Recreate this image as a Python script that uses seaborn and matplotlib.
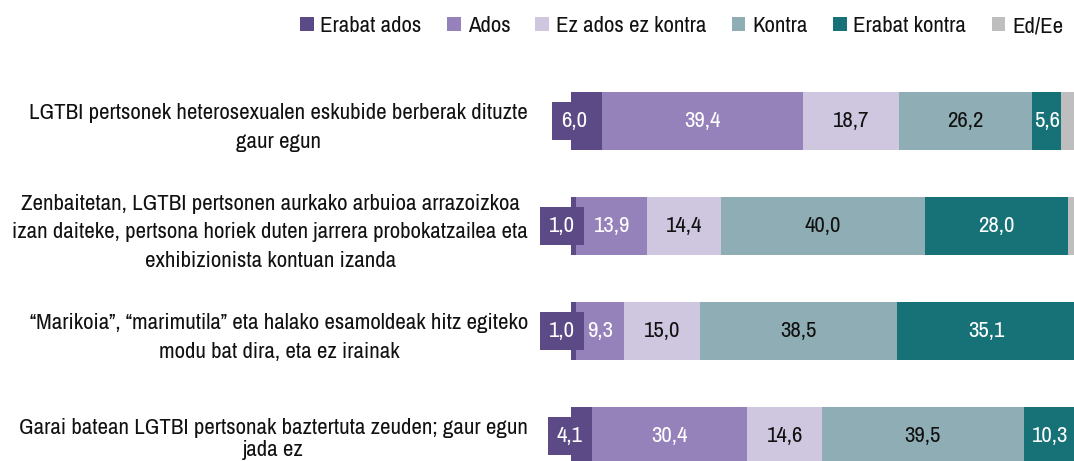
import matplotlib
matplotlib.use("Agg")
import matplotlib.pyplot as plt
from matplotlib.patches import Patch
import pandas as pd
import seaborn as sns

# survey statements (y axis), already wrapped like the original
statements = [
    "LGTBI pertsonek heterosexualen eskubide berberak dituzte\ngaur egun",
    "Zenbaitetan, LGTBI pertsonen aurkako arbuioa arrazoizkoa\nizan daiteke, pertsona horiek duten jarrera probokatzailea eta\nexhibizionista kontuan izanda",
    "\u201cMarikoia\u201d, \u201cmarimutila\u201d eta halako esamoldeak hitz egiteko\nmodu bat dira, eta ez irainak",
    "Garai batean LGTBI pertsonak baztertuta zeuden; gaur egun\njada ez",
]

answers = ["Erabat ados", "Ados", "Ez ados ez kontra", "Kontra", "Erabat kontra", "Ed/Ee"]

erabat_ados = [6.0, 1.0, 1.0, 4.1]
ados = [39.4, 13.9, 9.3, 30.4]
ez_ados_ez_kontra = [18.7, 14.4, 15.0, 14.6]
kontra = [26.2, 40.0, 38.5, 39.5]
erabat_kontra = [5.6, 28.0, 35.1, 10.3]
ed_ee = [4.1, 2.7, 1.1, 1.1]

colors = ["#5c4a87", "#9682ba", "#cfc7e0", "#8fadb4", "#167276", "#bebebe"]
text_colors = ["white", "white", "#111111", "#111111", "white", None]

df = pd.DataFrame({"statement": statements})
series = [erabat_ados, ados, ez_ados_ez_kontra, kontra, erabat_kontra, ed_ee]
for name, vals in zip(answers, series):
    df[name] = vals

# cumulative ends for stacking
cum = df[answers].cumsum(axis=1)

sns.set_style("white")
# narrow font like the original; falls back if missing
plt.rcParams["font.family"] = ["Archivo Narrow", "Roboto Condensed", "Liberation Sans Narrow", "DejaVu Sans"]
FS = 16.5

fig = plt.figure(figsize=(10.74, 4.61), dpi=100)
ax = fig.add_axes([571 / 1074, 1 - 488.5 / 461, 511 / 1074, 420 / 461])

# draw longest first so the shorter cumulative bars sit on top
for name, c in zip(answers[::-1], colors[::-1]):
    sns.barplot(x=cum[name], y=df["statement"], orient="h", color=c,
                width=0.55, saturation=1, ax=ax, linewidth=0)

ax.set_xlim(0, 100)
ax.set_ylim(3.5, -0.5)
ax.set_xlabel("")
ax.set_ylabel("")
ax.set_xticks([])
sns.despine(ax=ax, left=True, bottom=True)
ax.tick_params(axis="y", length=0, pad=31, labelsize=FS, labelcolor="#111111")
ylabs = ax.get_yticklabels()
for lab in ylabs:
    lab.set_multialignment("center")
    lab.set_linespacing(1.55)
# last one sits tighter at the bottom edge, like the original
ylabs[-1].set_linespacing(1.15)

# value labels
for i in range(len(df)):
    left = 0
    for j, name in enumerate(answers):
        v = df.loc[i, name]
        if text_colors[j] is not None:
            txt = f"{v:.1f}".replace(".", ",")
            if j == 0:
                ax.text(left + v / 2 - 2.3, i, txt, ha="center", va="center",
                        color="white", fontsize=FS,
                        bbox=dict(boxstyle="square,pad=0.4", fc=colors[0], ec="none"))
            else:
                ax.text(left + v / 2, i, txt, ha="center", va="center",
                        color=text_colors[j], fontsize=FS)
        left += v

handles = [Patch(facecolor=c, edgecolor="none") for c in colors]
fig.legend(handles, answers, loc="center right", bbox_to_anchor=(0.99, 1 - 26 / 461),
           ncol=6, frameon=False, fontsize=FS, handlelength=0.6, handleheight=0.6,
           handletextpad=0.3, columnspacing=1.1, borderaxespad=0, borderpad=0,
           labelcolor="#111111")

fig.savefig("out.png", dpi=100)
